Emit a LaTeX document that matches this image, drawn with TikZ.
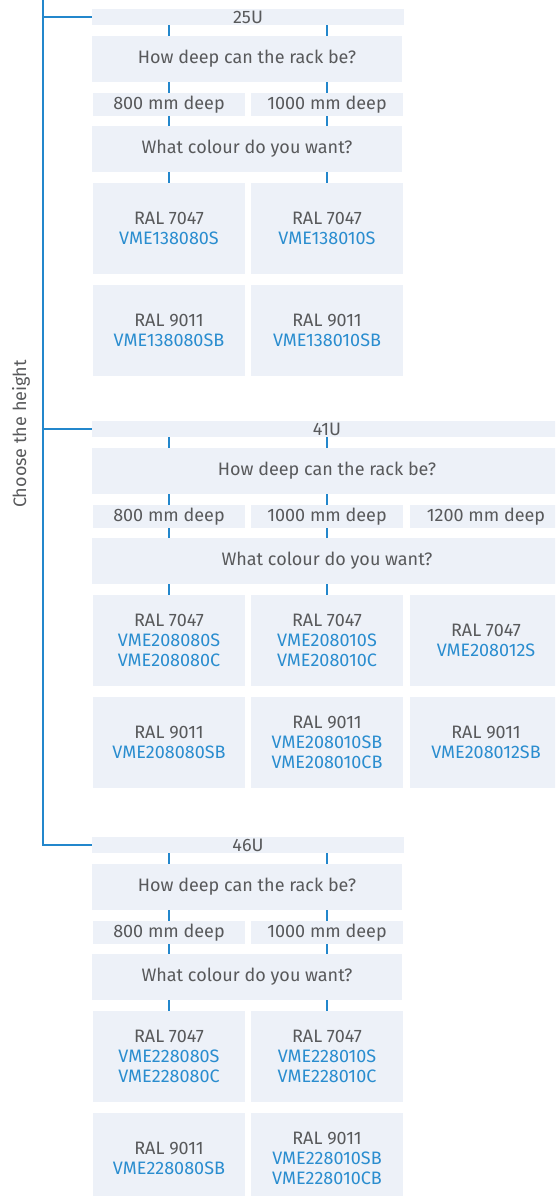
\documentclass[tikz,border=0pt]{standalone}
\usepackage{fontspec}
\setmainfont{Fira Sans}
\usetikzlibrary{calc}
\definecolor{boxfill}{HTML}{EDF1F8}
\definecolor{txtgray}{HTML}{58595B}
\definecolor{lineblue}{HTML}{2387CC}
\definecolor{codeblue}{HTML}{2A8DCF}
\tikzset{
  boxst/.style={fill=boxfill, draw=none, inner sep=0pt, align=center, text=txtgray,
    font=\fontsize{18}{20}\selectfont},
  bandst/.style={boxst, minimum height=16pt},
  widest/.style={boxst, minimum height=46pt},
  depthst/.style={boxst, minimum height=23pt, minimum width=152pt},
  prodst/.style={boxst, minimum height=91pt, minimum width=152pt},
  conn/.style={draw=lineblue, line width=2pt},
  trunk/.style={draw=lineblue, line width=2pt},
}
\newcommand\code[1]{\textcolor{codeblue}{#1}}
\begin{document}
\begin{tikzpicture}[x=1pt,y=-1pt]
\useasboundingbox (0,0) rectangle (555,1196);
\clip (0,0) rectangle (555,1196);

% ---------- 25U ----------
\begin{scope}[shift={(0,9)}]
\node[bandst, minimum width=312pt] (bandA) at (248,8) {25U};
\node[widest, minimum width=310pt] (howA) at (247,50) {How deep can the rack be?};
\node[depthst] (dA1) at (169,95.5) {800 mm deep};
\node[depthst] (dA2) at (327,95.5) {1000 mm deep};
\node[widest, minimum width=310pt] (colA) at (247,140) {What colour do you want?};
\node[prodst] (pA1) at (169,219.5) {RAL 7047\\\code{VME138080S}};
\node[prodst] (pA2) at (327,219.5) {RAL 7047\\\code{VME138010S}};
\node[prodst] (qA1) at (169,321.5) {RAL 9011\\\code{VME138080SB}};
\node[prodst] (qA2) at (327,321.5) {RAL 9011\\\code{VME138010SB}};
\end{scope}

% ---------- 41U ----------
\begin{scope}[shift={(0,421)}]
\node[bandst, minimum width=470pt] (bandB) at (327,8) {41U};
\node[widest, minimum width=470pt] (howB) at (327,50) {How deep can the rack be?};
\node[depthst] (dB1) at (169,95.5) {800 mm deep};
\node[depthst] (dB2) at (327,95.5) {1000 mm deep};
\node[depthst] (dB3) at (486,95.5) {1200 mm deep};
\node[widest, minimum width=470pt] (colB) at (327,140) {What colour do you want?};
\node[prodst] (pB1) at (169,219.5) {RAL 7047\\\code{VME208080S}\\\code{VME208080C}};
\node[prodst] (pB2) at (327,219.5) {RAL 7047\\\code{VME208010S}\\\code{VME208010C}};
\node[prodst] (pB3) at (486,219.5) {RAL 7047\\\code{VME208012S}};
\node[prodst] (qB1) at (169,321.5) {RAL 9011\\\code{VME208080SB}};
\node[prodst] (qB2) at (327,321.5) {RAL 9011\\\code{VME208010SB}\\\code{VME208010CB}};
\node[prodst] (qB3) at (486,321.5) {RAL 9011\\\code{VME208012SB}};
\end{scope}

% ---------- 46U ----------
\begin{scope}[shift={(0,837)}]
\node[bandst, minimum width=312pt] (bandC) at (248,8) {46U};
\node[widest, minimum width=310pt] (howC) at (247,50) {How deep can the rack be?};
\node[depthst] (dC1) at (169,95.5) {800 mm deep};
\node[depthst] (dC2) at (327,95.5) {1000 mm deep};
\node[widest, minimum width=310pt] (colC) at (247,140) {What colour do you want?};
\node[prodst] (pC1) at (169,219.5) {RAL 7047\\\code{VME228080S}\\\code{VME228080C}};
\node[prodst] (pC2) at (327,219.5) {RAL 7047\\\code{VME228010S}\\\code{VME228010C}};
\node[prodst] (qC1) at (169,321.5) {RAL 9011\\\code{VME228080SB}};
\node[prodst] (qC2) at (327,321.5) {RAL 9011\\\code{VME228010SB}\\\code{VME228010CB}};
\end{scope}

% ---------- connectors ----------
\foreach \s in {A,B,C}{
  \foreach \c in {1,2}{
    \draw[conn] (band\s.south -| d\s\c) -- (how\s.north -| d\s\c);
    \draw[conn] (how\s.south -| d\s\c) -- (d\s\c.north);
    \draw[conn] (d\s\c.south) -- (col\s.north -| d\s\c);
    \draw[conn] (col\s.south -| d\s\c) -- (p\s\c.north);
  }
}

% ---------- trunk ----------
\coordinate (top) at (43,-5);
\draw[trunk] (top) |- (bandC.west);
\draw[trunk] (top |- bandA.west) -- (bandA.west);
\draw[trunk] (top |- bandB.west) -- (bandB.west);
\node[rotate=90, text=txtgray, font=\fontsize{18}{20}\selectfont] (lbl) at (21,434) {Choose the height};
\end{tikzpicture}
\end{document}
